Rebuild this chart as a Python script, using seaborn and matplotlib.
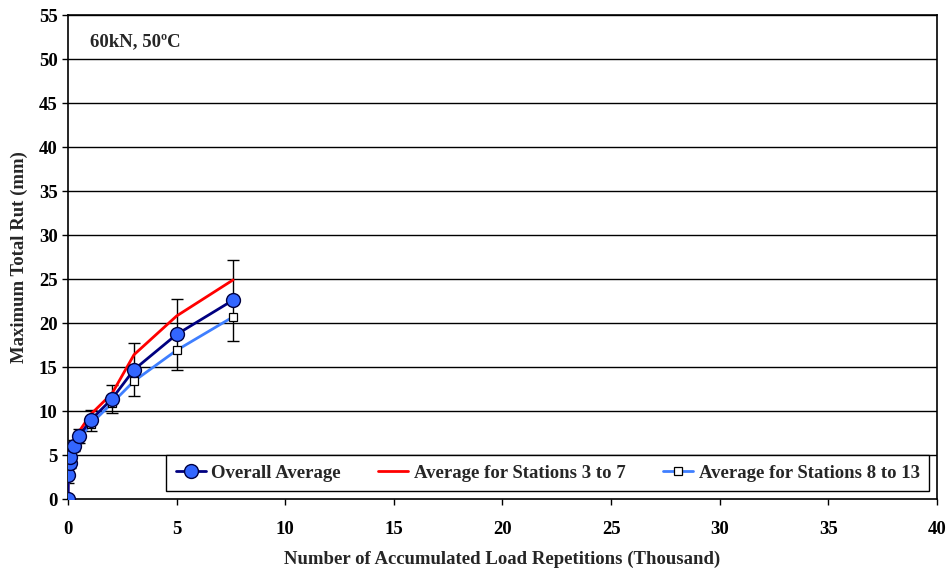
import matplotlib
matplotlib.use("Agg")
import matplotlib.pyplot as plt
import seaborn as sns
import pandas as pd
import numpy as np

# Data (thousand repetitions, rut in mm)
reps = [0, 0.01, 0.08, 0.11, 0.29, 0.52, 1.04, 2.03, 3.04, 5.0, 7.6]
overall = [0, 2.7, 4.05, 4.8, 6.05, 7.2, 8.95, 11.4, 14.7, 18.7, 22.6]
err_overall = [0, 0.9, 0.5, 0.5, 0.6, 0.8, 1.2, 1.6, 3.05, 4.0, 4.6]
stations_3_7 = [0, 2.8, 4.2, 5.0, 6.4, 7.7, 9.6, 12.0, 16.4, 20.8, 24.9]
stations_8_13 = [0, 2.6, 3.9, 4.6, 5.8, 6.8, 8.5, 10.9, 13.4, 16.9, 20.7]

series_names = ["Overall Average", "Average for Stations 3 to 7", "Average for Stations 8 to 13"]
xticks = [0, 5, 10, 15, 20, 25, 30, 35, 40]
yticks = [0, 5, 10, 15, 20, 25, 30, 35, 40, 45, 50, 55]

sns.set_style("white")
plt.rcParams["font.family"] = ["Liberation Serif", "DejaVu Serif"]
plt.rcParams["font.weight"] = "bold"

FS = 13.5

fig = plt.figure(figsize=(9.48, 5.69), dpi=100)
ax = fig.add_axes([0.0717, 0.1230, 0.9167, 0.8506])

df = pd.DataFrame({"x": reps, "overall": overall, "s37": stations_3_7, "s813": stations_8_13})

# grid lines
for yv in yticks[1:]:
    ax.axhline(yv, color="black", lw=1.0, zorder=0)

ax.errorbar(reps, overall, yerr=err_overall, fmt="none", ecolor="black",
            elinewidth=1.0, capsize=4, capthick=1.0, zorder=2)

sns.lineplot(data=df, x="x", y="s37", ax=ax, color="#FF0000", lw=2,
             label=series_names[1], zorder=3)
sns.lineplot(data=df, x="x", y="s813", ax=ax, color="#3F7FFF", lw=2,
             marker="s", markersize=6, markerfacecolor="white",
             markeredgecolor="black", markeredgewidth=0.9,
             label=series_names[2], zorder=4)
sns.lineplot(data=df, x="x", y="overall", ax=ax, color="#000080", lw=2,
             marker="o", markersize=10, markerfacecolor="#3366FF",
             markeredgecolor="#000040", markeredgewidth=1.0,
             label=series_names[0], zorder=5)

ax.set_xlim(0, 40)
ax.set_ylim(0, 55)
ax.set_xticks(xticks)
ax.set_yticks(yticks)
ax.tick_params(axis="both", direction="out", length=4, width=1, colors="black",
               labelsize=FS, bottom=True, left=True)
for lab in ax.get_xticklabels() + ax.get_yticklabels():
    lab.set_fontweight("bold")
ax.tick_params(axis="x", pad=12)

for sp in ax.spines.values():
    sp.set_color("black")
    sp.set_linewidth(1.2)
    sp.set_visible(True)

ax.set_xlabel("Number of Accumulated Load Repetitions (Thousand)", fontsize=FS,
              fontweight="bold", labelpad=9)
ax.set_ylabel("Maximum Total Rut (mm)", fontsize=FS, fontweight="bold", labelpad=8)

ax.text(0.025, 0.945, "60kN, 50ºC", transform=ax.transAxes, fontsize=FS,
        fontweight="bold", va="center", ha="left")

handles, labels = ax.get_legend_handles_labels()
order = [labels.index(n) for n in series_names]
leg = ax.legend([handles[i] for i in order], [labels[i] for i in order],
                ncol=3, loc="lower right", bbox_to_anchor=(0.991, 0.0165),
                frameon=True, fancybox=False, framealpha=1, edgecolor="black",
                prop={"weight": "bold", "size": FS}, handlelength=1.6,
                columnspacing=2.0, handletextpad=0.3, borderpad=0.5,
                borderaxespad=0)
leg.get_frame().set_linewidth(1.0)
leg.set_zorder(10)

fig.savefig("out.png", dpi=100)
